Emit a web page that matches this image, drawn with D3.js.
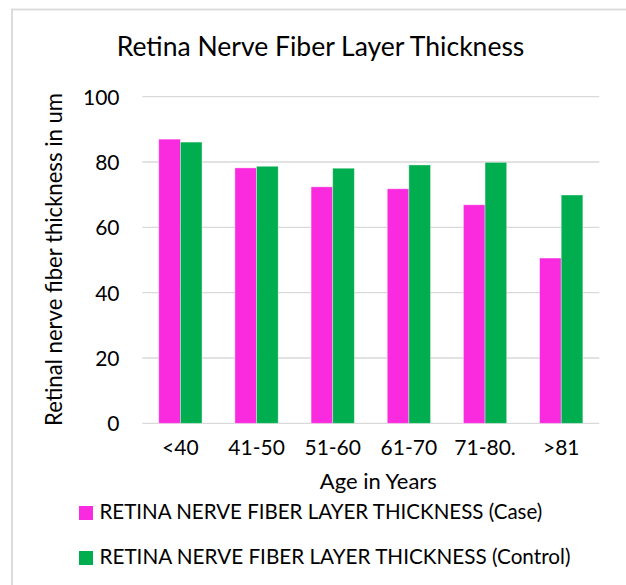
<!DOCTYPE html>
<html>
<head>
<meta charset="utf-8">
<script src="https://cdn.jsdelivr.net/npm/d3@7"></script>
<style>
  html, body { margin: 0; padding: 0; background: #fff; }
  svg { display: block; }
  text { font-family: Lato, "Open Sans", sans-serif; fill: #000; }
</style>
</head>
<body>
<svg id="chart" width="626" height="585"></svg>
<script>
const categories = ["<40", "41-50", "51-60", "61-70", "71-80.", ">81"];
const seriesNames = ["RETINA NERVE FIBER LAYER THICKNESS (Case)", "RETINA NERVE FIBER LAYER THICKNESS (Control)"];
const caseValues = [87.0, 78.2, 72.4, 71.8, 66.9, 50.6];
const controlValues = [86.1, 78.7, 78.1, 79.1, 79.9, 69.9];
const yTicks = [0, 20, 40, 60, 80, 100];
const colors = ["#FA2BDE", "#00AE50"];
const titleText = "Retina Nerve Fiber Layer Thickness";
const xTitle = "Age in Years";
const yTitle = "Retinal nerve fiber thickness in um";

const svg = d3.select("#chart");

// chart border (extends past the visible frame)
svg.append("rect").attr("x", 12).attr("y", 9.5).attr("width", 700).attr("height", 700)
  .attr("fill", "none").attr("stroke", "#d9d9d9").attr("stroke-width", 1.8);

const plot = { left: 142.3, right: 599.3, top: 96.7, bottom: 423.3 };

const y = d3.scaleLinear().domain([0, 100]).range([plot.bottom, plot.top]);
const x0 = d3.scaleBand().domain(categories).range([plot.left, plot.right])
  .paddingInner(0.432).paddingOuter(0.216);
const x1 = d3.scaleBand().domain([0, 1]).range([0, x0.bandwidth()]).padding(0);

function fit(sel, target) {
  const n = sel.node();
  const base = parseFloat(sel.attr("font-size"));
  const w = n.getComputedTextLength();
  sel.attr("font-size", (base * target / w).toFixed(2));
}

// gridlines
svg.append("g").selectAll("line").data(yTicks).join("line")
  .attr("x1", plot.left).attr("x2", plot.right)
  .attr("y1", d => y(d)).attr("y2", d => y(d))
  .attr("stroke", "#d9d9d9").attr("stroke-width", 1.3);

// y axis labels
const yAxis = d3.axisLeft(y).tickValues(yTicks).tickSize(0).tickPadding(0);
const gy = svg.append("g").attr("transform", `translate(119.5,0)`).call(yAxis);
gy.select(".domain").remove();
gy.selectAll("text").attr("font-size", 21).attr("font-family", "Lato, sans-serif")
  .attr("fill", "#000").attr("dy", "0.36em");

// x axis labels
const xAxis = d3.axisBottom(x0).tickSize(0).tickPadding(0);
const gx = svg.append("g").attr("transform", `translate(0,454.5)`).call(xAxis);
gx.select(".domain").remove();
gx.selectAll("text").attr("font-size", 21).attr("font-family", "Lato, sans-serif")
  .attr("fill", "#000").attr("dy", 0);

// bars
const rows = categories.map((c, i) => ({ cat: c, vals: [caseValues[i], controlValues[i]] }));
const groups = svg.append("g").selectAll("g").data(rows).join("g")
  .attr("transform", d => `translate(${x0(d.cat)},0)`);
groups.selectAll("rect").data(d => d.vals.map((v, k) => ({ v, k }))).join("rect")
  .attr("x", d => x1(d.k)).attr("width", x1.bandwidth())
  .attr("y", d => y(d.v)).attr("height", d => y(0) - y(d.v))
  .attr("fill", d => colors[d.k])
  .attr("stroke", "#ffffff").attr("stroke-opacity", 0.45).attr("stroke-width", 0.8);

// title
const t = svg.append("text").attr("x", 320.5).attr("y", 56).attr("text-anchor", "middle")
  .attr("font-size", 26).text(titleText);
fit(t, 408);

// x title
const xt = svg.append("text").attr("x", 378.3).attr("y", 489).attr("text-anchor", "middle")
  .attr("font-size", 21).text(xTitle);
fit(xt, 117);

// y title
const yt = svg.append("text").attr("transform", "translate(61.5,259.5) rotate(-90)")
  .attr("text-anchor", "middle").attr("font-size", 21).text(yTitle);
fit(yt, 333);

// legend
const leg = svg.append("g").selectAll("g").data(seriesNames).join("g")
  .attr("transform", (d, i) => `translate(79,${506 + i * 45})`);
leg.append("rect").attr("width", 14).attr("height", 14).attr("fill", (d, i) => colors[i]);
leg.append("text").attr("x", 20.5).attr("y", 13).attr("font-size", 20).text(d => d)
  .each(function (d, i) { fit(d3.select(this), i === 0 ? 443 : 471); });
</script>
</body>
</html>
